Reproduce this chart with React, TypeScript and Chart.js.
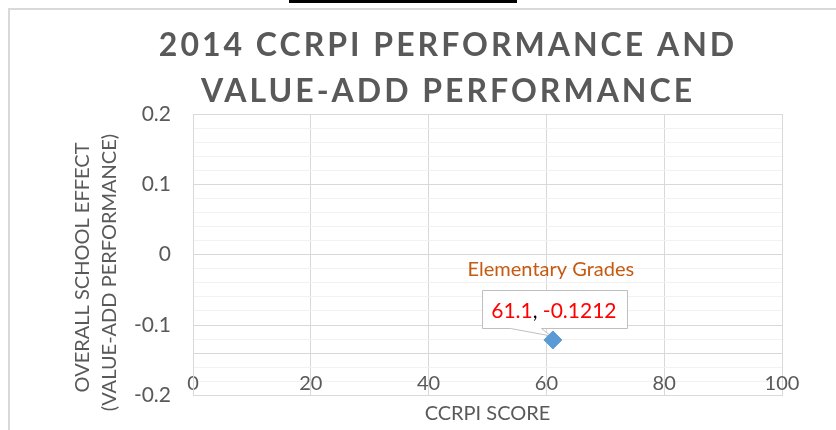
import React, { useEffect, useRef } from 'react';
import { Chart, registerables } from 'chart.js';

Chart.register(...registerables);

// ---- data ----
const titleLines = ['2014 CCRPI PERFORMANCE AND', 'VALUE-ADD PERFORMANCE'];
const seriesName = 'Elementary Grades';
const ccrpiScores = [61.1];
const schoolEffects = [-0.1212];
const xTickValues = [0, 20, 40, 60, 80, 100];
const yTickLabels = ['-0.2', '-0.1', '0', '0.1', '0.2'];
const xAxisTitle = 'CCRPI SCORE';
const yAxisTitle = ['OVERALL SCHOOL EFFECT', '(VALUE-ADD PERFORMANCE)'];
const xMin = 0;
const xMax = 100;
const yMin = -0.2;
const yMax = 0.2;
const yMinorStep = 0.02;
const xAxisCrossesAt = -0.14;

const TEXT = '#595959';
const GRID_MAJOR = '#D9D9D9';
const GRID_MINOR = '#F2F2F2';
const FONT = 'Lato';

const yLabelFor = (v: number) => {
  const found = yTickLabels.find((l) => Math.abs(parseFloat(l) - v) < 1e-6);
  return found ?? '';
};

const titlePlugin = {
  id: 'twoLineTitle',
  afterDraw(chart: any) {
    const ctx = chart.ctx as CanvasRenderingContext2D;
    ctx.save();
    ctx.font = `bold 32px ${FONT}`;
    ctx.fillStyle = TEXT;
    ctx.textAlign = 'center';
    ctx.textBaseline = 'alphabetic';
    (ctx as any).letterSpacing = '3px';
    titleLines.forEach((line, i) => ctx.fillText(line, 448, 56 + i * 46));
    ctx.restore();
  },
};

const calloutPlugin = {
  id: 'callout',
  beforeDatasetsDraw(chart: any) {
    const ctx = chart.ctx as CanvasRenderingContext2D;
    const meta = chart.getDatasetMeta(0);
    meta.data.forEach((pt: any, i: number) => {
      const px = pt.x;
      const py = pt.y;
      ctx.save();
      // series name label
      ctx.font = `20px ${FONT}`;
      ctx.fillStyle = '#C55A11';
      ctx.textAlign = 'center';
      ctx.textBaseline = 'alphabetic';
      ctx.fillText(seriesName, px - 2, py - 64);

      // callout box with pointer
      const L = Math.round(px - 71) + 0.5;
      const R = Math.round(px + 74) + 0.5;
      const T = Math.round(py - 50) + 0.5;
      const B = Math.round(py - 12) + 0.5;
      const ax = Math.round(px - 43) + 0.5;
      const bx = Math.round(px - 12) + 0.5;
      ctx.beginPath();
      ctx.moveTo(L, T);
      ctx.lineTo(R, T);
      ctx.lineTo(R, B);
      ctx.lineTo(bx, B);
      ctx.lineTo(px - 2, py - 4);
      ctx.lineTo(ax, B);
      ctx.lineTo(L, B);
      ctx.closePath();
      ctx.fillStyle = '#FFFFFF';
      ctx.fill();
      ctx.strokeStyle = '#BFBFBF';
      ctx.lineWidth = 1;
      ctx.stroke();

      // value text: x, y
      const parts = [String(ccrpiScores[i]), ', ', String(schoolEffects[i])];
      const colors = ['#FF0000', '#000000', '#FF0000'];
      ctx.font = `21px ${FONT}`;
      ctx.textAlign = 'left';
      const widths = parts.map((p) => ctx.measureText(p).width);
      const total = widths.reduce((a, b) => a + b, 0);
      let x = px + 1 - total / 2;
      parts.forEach((p, k) => {
        ctx.fillStyle = colors[k];
        ctx.fillText(p, x, py - 22);
        x += widths[k];
      });
      ctx.restore();
    });
  },
};

export default function App() {
  const canvasRef = useRef<HTMLCanvasElement | null>(null);

  useEffect(() => {
    if (!canvasRef.current) return;
    const chart = new Chart(canvasRef.current, {
      type: 'scatter',
      data: {
        datasets: [
          {
            label: seriesName,
            data: ccrpiScores.map((x, i) => ({ x, y: schoolEffects[i] })),
            pointStyle: 'rectRot',
            pointRadius: 9,
            pointHoverRadius: 9,
            backgroundColor: '#5B9BD5',
            borderColor: '#5B9BD5',
            borderWidth: 1,
            showLine: false,
          },
        ],
      },
      options: {
        responsive: false,
        animation: false,
        devicePixelRatio: 1,
        layout: { padding: { left: 60, right: 54, top: 114, bottom: 0 } },
        plugins: {
          legend: { display: false },
          tooltip: { enabled: false },
          title: { display: false },
        },
        scales: {
          x: {
            type: 'linear',
            position: 'bottom',
            min: xMin,
            max: xMax,
            afterBuildTicks: (scale: any) => {
              scale.ticks = xTickValues.map((v) => ({ value: v }));
            },
            ticks: {
              mirror: true,
              padding: 0,
              color: TEXT,
              font: { family: FONT, size: 20 },
              maxRotation: 0,
              autoSkip: false,
              callback: (v: any) => String(v),
            },
            grid: { color: GRID_MAJOR, drawTicks: false, lineWidth: 1 },
            border: { color: GRID_MAJOR, width: 1 },
            title: {
              display: true,
              text: xAxisTitle,
              color: TEXT,
              font: { family: FONT, size: 20, lineHeight: 1.2 },
              padding: { top: 0, bottom: 0 },
            },
            afterFit: (scale: any) => {
              scale.height = 30;
            },
          },
          y: {
            type: 'linear',
            min: yMin,
            max: yMax,
            ticks: {
              stepSize: yMinorStep,
              autoSkip: false,
              padding: 22,
              color: TEXT,
              font: { family: FONT, size: 21 },
              callback: (v: any) => yLabelFor(Number(v)),
            },
            grid: {
              drawTicks: false,
              lineWidth: 1,
              color: (ctx: any) => {
                const v = ctx.tick ? ctx.tick.value : 0;
                const isMajor = yLabelFor(v) !== '' || Math.abs(v - xAxisCrossesAt) < 1e-6;
                return isMajor ? GRID_MAJOR : GRID_MINOR;
              },
            },
            border: { color: GRID_MAJOR, width: 1 },
            title: {
              display: true,
              text: [yAxisTitle[0] + '     ', yAxisTitle[1] + '       '],
              color: TEXT,
              font: { family: FONT, size: 20, lineHeight: '27px' },
              padding: { top: 9, bottom: 0 },
            },
            afterFit: (scale: any) => {
              scale.width = 133;
            },
          },
        },
      } as any,
      plugins: [calloutPlugin, titlePlugin],
    });
    return () => chart.destroy();
  }, []);

  return (
    <div style={{ position: 'absolute', left: 0, top: 0, width: 836, height: 430, background: '#FFFFFF', overflow: 'hidden' }}>
      <div style={{ position: 'absolute', left: 289, top: 0, width: 228, height: 3, background: '#000000' }} />
      <div style={{ position: 'absolute', left: 8, top: 8, width: 2, height: 422, background: '#D9D9D9' }} />
      <div style={{ position: 'absolute', left: 8, top: 8, width: 828, height: 2, background: '#D9D9D9' }} />
      <canvas ref={canvasRef} width={836} height={430} style={{ position: 'absolute', left: 0, top: 0, display: 'block' }} />
    </div>
  );
}
